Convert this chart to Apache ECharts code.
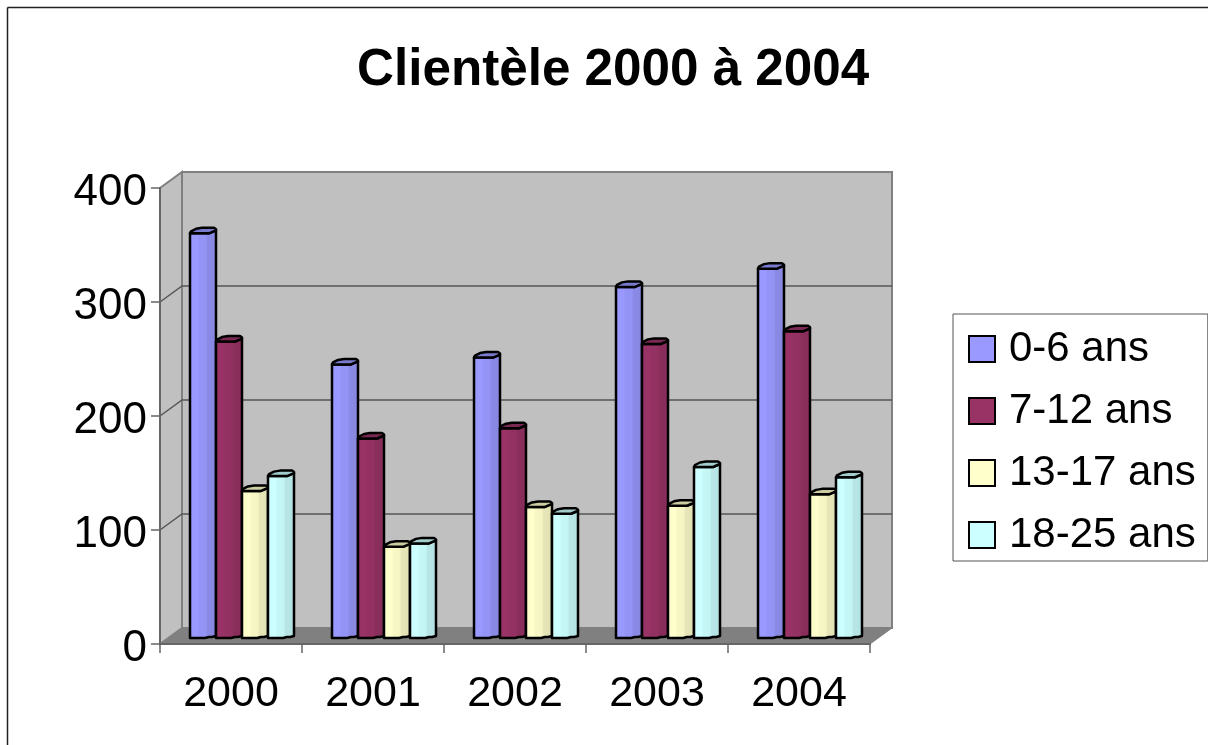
<!DOCTYPE html>
<html>
<head>
<meta charset="utf-8">
<title>Clientèle 2000 à 2004</title>
<script src="https://cdn.jsdelivr.net/npm/echarts@6/dist/echarts.min.js"></script>
<style>
  html, body { margin: 0; padding: 0; background: #fff; }
  #chart { width: 1208px; height: 745px; }
</style>
</head>
<body>
<div id="chart"></div>
<script>
// Données
const years = ['2000', '2001', '2002', '2003', '2004'];
const yTicks = [0, 100, 200, 300, 400];
const ans0to6 = [355, 240, 246, 308, 324];
const ans7to12 = [260, 175, 184, 258, 269];
const ans13to17 = [129, 80, 115, 116, 126];
const ans18to25 = [142, 83, 109, 150, 141];
const seriesNames = ['0-6 ans', '7-12 ans', '13-17 ans', '18-25 ans'];
const seriesColors = ['#9999FF', '#993366', '#FFFFCC', '#CCFFFF'];
const seriesValues = [ans0to6, ans7to12, ans13to17, ans18to25];

// Perspective du faux 3D
const DEPTH_X = 22;
const DEPTH_Y = 16;
const BAR_WIDTH = 26;
const BAR_START = 30;   // décalage de la 1re barre dans la catégorie
const BAR_LIFT = 6;     // les barres sont posées au milieu du sol
const FONT = '"Liberation Sans", Arial, sans-serif';

// Assombrit une couleur (lift ne fait qu'éclaircir)
function shade(color, k) {
  const c = echarts.color.parse(color);
  return `rgb(${Math.round(c[0] * k)},${Math.round(c[1] * k)},${Math.round(c[2] * k)})`;
}

// Murs, sol et lignes de grille
function renderWalls(params, api) {
  const cs = params.coordSys;
  const left = cs.x, right = cs.x + cs.width;
  const top = cs.y, bottom = cs.y + cs.height;
  const children = [
    {
      type: 'polygon',
      shape: { points: [[left, bottom], [left, top], [left + DEPTH_X, top - DEPTH_Y], [left + DEPTH_X, bottom - DEPTH_Y]] },
      style: { fill: '#C0C0C0', stroke: '#808080', lineWidth: 2 }
    },
    {
      type: 'rect',
      shape: { x: left + DEPTH_X, y: top - DEPTH_Y, width: cs.width, height: cs.height },
      style: { fill: '#C0C0C0', stroke: '#808080', lineWidth: 2 }
    },
    {
      type: 'polygon',
      shape: { points: [[left, bottom], [left + DEPTH_X, bottom - DEPTH_Y], [right + DEPTH_X, bottom - DEPTH_Y], [right, bottom]] },
      style: { fill: '#808080', stroke: '#808080', lineWidth: 1 }
    }
  ];
  yTicks.slice(1, -1).forEach(t => {
    const y = api.coord([0, t])[1];
    children.push({
      type: 'polyline',
      shape: { points: [[left, y], [left + DEPTH_X, y - DEPTH_Y], [right + DEPTH_X, y - DEPTH_Y]] },
      style: { fill: null, stroke: '#555555', lineWidth: 1.5 }
    });
  });
  return { type: 'group', children };
}

// Une barre : face avant + chapeau
function renderBar(slot, color) {
  const fill = new echarts.graphic.LinearGradient(0, 0, 1, 0, [
    { offset: 0, color: color },
    { offset: 0.32, color: color },
    { offset: 0.36, color: shade(color, 0.97) },
    { offset: 0.6, color: shade(color, 0.96) },
    { offset: 0.65, color: shade(color, 0.9) },
    { offset: 1, color: shade(color, 0.88) }
  ]);
  return function (params, api) {
    const band = api.size([1, 0])[0];
    const pos = api.coord([api.value(0), api.value(1)]);
    const base = api.coord([api.value(0), 0]);
    const x = pos[0] - band / 2 + BAR_START + slot * BAR_WIDTH;
    const yTop = pos[1] - BAR_LIFT;
    const yBase = base[1] - BAR_LIFT;
    const w = BAR_WIDTH;
    const edge = { stroke: '#000', lineWidth: 2.5, lineJoin: 'round' };
    return {
      type: 'group',
      children: [
        {
          type: 'polygon',
          shape: {
            points: [
              [x, yTop], [x + 19, yTop], [x + w, yTop - 3],
              [x + w, yBase - 2], [x + 22, yBase - 1], [x + 19, yBase - 1], [x + 15, yBase], [x, yBase]
            ]
          },
          style: Object.assign({ fill }, edge)
        },
        {
          type: 'polygon',
          shape: {
            points: [
              [x, yTop], [x + 1, yTop - 2], [x + 6, yTop - 4.5], [x + 12, yTop - 5.5], [x + 24, yTop - 5.5],
              [x + w, yTop - 4], [x + w, yTop - 3], [x + 19, yTop]
            ]
          },
          style: Object.assign({ fill: shade(color, 0.8) }, edge)
        }
      ]
    };
  };
}

const chart = echarts.init(document.getElementById('chart'));

const series = [
  {
    type: 'custom',
    name: 'murs',
    silent: true,
    data: [[0, 0]],
    encode: { x: 0, y: 1 },
    renderItem: renderWalls,
    z: 1
  }
].concat(seriesNames.map((name, s) => ({
  type: 'custom',
  name: name,
  data: seriesValues[s].map((v, i) => [i, v]),
  encode: { x: 0, y: 1 },
  itemStyle: { color: seriesColors[s] },
  renderItem: renderBar(s, seriesColors[s]),
  z: 2 + s
})));

chart.setOption({
  animation: false,
  backgroundColor: '#fff',
  title: {
    text: 'Clientèle 2000 à 2004',
    left: 352,
    top: 40,
    textStyle: { fontFamily: FONT, fontSize: 51.2, fontWeight: 'bold', color: '#000' }
  },
  legend: {
    orient: 'vertical',
    left: 953,
    top: 314,
    padding: [14, 12, 5, 15],
    itemWidth: 26,
    itemHeight: 26,
    itemGap: 20,
    backgroundColor: '#fff',
    borderColor: '#555555',
    borderWidth: 1,
    selectedMode: false,
    data: seriesNames.map((name, s) => ({
      name,
      icon: 'rect',
      itemStyle: { color: seriesColors[s], borderColor: '#000', borderWidth: 2 }
    })),
    textStyle: { fontFamily: FONT, fontSize: 42, color: '#000', lineHeight: 26, padding: [0, 0, 0, 9] }
  },
  grid: { left: 160, right: 338, top: 188, bottom: 101 },
  xAxis: {
    type: 'category',
    data: years,
    z: 10,
    axisLine: { lineStyle: { color: '#666666', width: 2 } },
    axisTick: { show: true, length: 9, lineStyle: { color: '#666666', width: 1.5 } },
    axisLabel: { fontFamily: FONT, fontSize: 43, color: '#000', margin: 29 },
    splitLine: { show: false }
  },
  yAxis: {
    type: 'value',
    min: 0,
    max: 400,
    interval: 100,
    z: 10,
    axisLine: { show: true, lineStyle: { color: '#666666', width: 2 } },
    axisTick: { show: true, length: 9, lineStyle: { color: '#666666', width: 1.5 } },
    axisLabel: { fontFamily: FONT, fontSize: 44, color: '#000', margin: 13, verticalAlign: 'top', lineHeight: 10 },
    splitLine: { show: false }
  },
  graphic: [
    { type: 'line', shape: { x1: 7.5, y1: 7.5, x2: 1208, y2: 7.5 }, style: { stroke: '#222', lineWidth: 1.5 } },
    { type: 'line', shape: { x1: 7.5, y1: 7.5, x2: 7.5, y2: 745 }, style: { stroke: '#222', lineWidth: 1.5 } }
  ],
  series
});

window.addEventListener('resize', () => chart.resize());
</script>
</body>
</html>
